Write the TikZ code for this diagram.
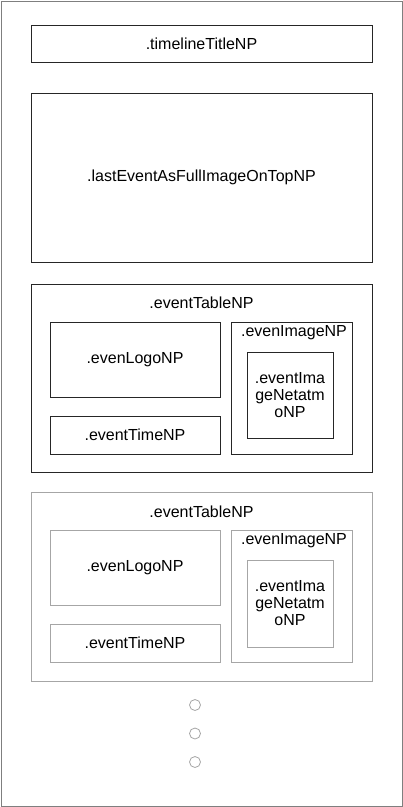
\documentclass[tikz,border=0pt]{standalone}
\usepackage{fontspec}
\setmainfont{Liberation Sans}
\usepackage{tikz}
\usetikzlibrary{positioning}
\usepackage{xcolor}
\definecolor{framegray}{HTML}{7F7F7F}
\definecolor{dimgray}{HTML}{A6A6A6}

\begin{document}
\begin{tikzpicture}[x=1pt,y=-1pt,font=\fontsize{16}{17}\selectfont,
  box/.style={draw=black!85,line width=1pt,inner sep=0pt},
  dimbox/.style={draw=dimgray,line width=1pt,inner sep=0pt},
  dot/.style={circle,draw=dimgray,line width=0.8pt,minimum size=11pt,inner sep=0pt}]
\useasboundingbox (0,0) rectangle (403,807);
\node[draw=framegray,line width=1pt,minimum width=401pt,minimum height=805pt,inner sep=0pt] (page) at (201.5,403.5) {};
\node[box,minimum width=341pt,minimum height=37pt] (title) at (201.5,43.5) {.timelineTitleNP};
\node[box,minimum width=341pt,minimum height=169pt] (last) at (201.5,177.5) {.lastEventAsFullImageOnTopNP};
% first event row
\node[box,minimum width=341pt,minimum height=188pt] (table1) at (201.5,378) {};
\node (tablelbl1) at (201.5,303) {.eventTableNP};
\node[box,minimum width=170pt,minimum height=75pt] (logo1) at (135,359.5) {.evenLogoNP};
\node[box,minimum width=170pt,minimum height=38pt] (time1) at (135,435) {.eventTimeNP};
\node[box,minimum width=121pt,minimum height=132pt] (image1) at (291.5,388) {};
\node (imagelbl1) at (294,333) {.evenImageNP};
\node[box,minimum width=86pt,minimum height=86pt,align=center] (netatmo1) at (290,395) {.eventIma\\geNetatm\\oNP};
% second event row
\node[dimbox,minimum width=341pt,minimum height=189pt] (table2) at (201.5,586.5) {};
\node (tablelbl2) at (201.5,512) {.eventTableNP};
\node[dimbox,minimum width=170pt,minimum height=75pt] (logo2) at (135,567.5) {.evenLogoNP};
\node[dimbox,minimum width=170pt,minimum height=38pt] (time2) at (135,643) {.eventTimeNP};
\node[dimbox,minimum width=121pt,minimum height=132pt] (image2) at (291.5,596) {};
\node (imagelbl2) at (294,541) {.evenImageNP};
\node[dimbox,minimum width=86pt,minimum height=87pt,align=center] (netatmo2) at (290,603.5) {.eventIma\\geNetatm\\oNP};
% more rows
\node[dot] (dot1) at (195,705) {};
\node[dot] (dot2) at (195,733.5) {};
\node[dot] (dot3) at (195,762) {};
\end{tikzpicture}
\end{document}
